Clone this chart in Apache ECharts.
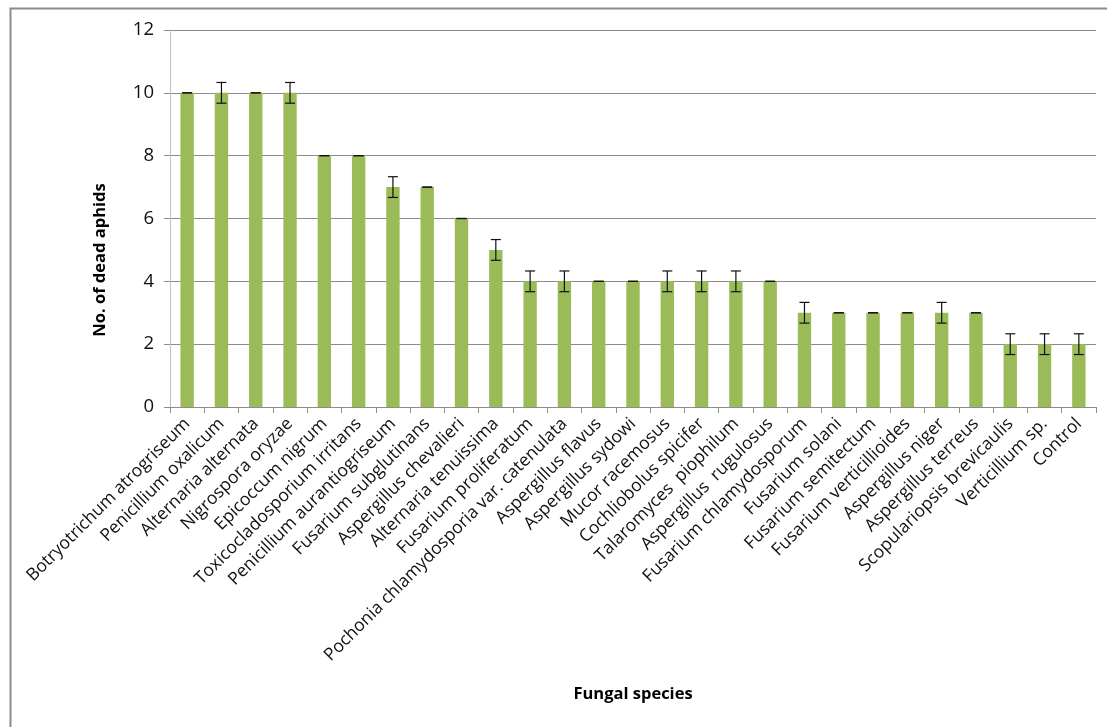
<!DOCTYPE html>
<html><head><meta charset="utf-8">
<script src="https://cdn.jsdelivr.net/npm/echarts@6/dist/echarts.min.js"></script>
<style>html,body{margin:0;padding:0;background:#fff;}#c{width:1107px;height:727px;}</style>
</head><body><div id="c"></div>
<script>
const categories = ["Botryotrichum atrogriseum","Penicillium oxalicum","Alternaria alternata","Nigrospora oryzae","Epicoccum nigrum","Toxicocladosporium irritans","Penicillium aurantiogriseum","Fusarium subglutinans","Aspergillus chevalieri","Alternaria tenuissima","Fusarium proliferatum","Pochonia chlamydosporia var. catenulata","Aspergillus flavus","Aspergillus sydowi","Mucor racemosus","Cochliobolus spicifer","Talaromyces  piophilum","Aspergillus  rugulosus","Fusarium chlamydosporum","Fusarium solani","Fusarium semitectum","Fusarium verticillioides","Aspergillus niger","Aspergillus terreus","Scopulariopsis brevicaulis","Verticillium sp.","Control"];
const deadAphids = [10,10,10,10,8,8,7,7,6,5,4,4,4,4,4,4,4,4,3,3,3,3,3,3,2,2,2];
const errors = [0,0.33,0,0.33,0,0,0.33,0,0,0.33,0.33,0.33,0,0,0.33,0.33,0.33,0,0.33,0,0,0,0.33,0,0.33,0.33,0.33];
const yTicks = [0,2,4,6,8,10,12];

const FONT = '"Open Sans", "Liberation Sans", sans-serif';
const chart = echarts.init(document.getElementById('c'), null, {renderer:'canvas'});
const errData = deadAphids.map((v,i)=>[i, v - errors[i], v + errors[i]]);
chart.setOption({
  animation:false,
  backgroundColor:'#fff',
  grid:{left:170, right:11, top:30, bottom:320, containLabel:false},
  xAxis:{
    type:'category', data:categories,
    axisLine:{lineStyle:{color:'#8c8c8c', width:1}},
    axisTick:{show:true, alignWithLabel:false, length:6, lineStyle:{color:'#8c8c8c'}},
    axisLabel:{rotate:45, interval:0, fontSize:17.5, fontFamily:FONT, color:'#111', margin:14}
  },
  yAxis:{
    type:'value', min:yTicks[0], max:yTicks[yTicks.length-1], interval:2,
    axisLine:{show:true, lineStyle:{color:'#bfbfbf'}},
    axisTick:{show:true, length:6, lineStyle:{color:'#8c8c8c'}},
    splitLine:{show:true, lineStyle:{color:'#8c8c8c', width:1}},
    axisLabel:{fontSize:18.5, fontFamily:FONT, color:'#111', margin:16}
  },
  graphic:[
    {type:'rect', shape:{x:10.5, y:8.5, width:1200, height:800}, style:{fill:'none', stroke:'#8c8c8c', lineWidth:2}, silent:true, z:-1},
    {type:'text', x:100, y:260, rotation:Math.PI/2, style:{text:'No. of dead aphids', font:'bold 16.5px '+FONT, fill:'#000', align:'center', verticalAlign:'middle'}},
    {type:'text', x:633, y:694, style:{text:'Fungal species', font:'bold 16.5px '+FONT, fill:'#000', align:'center', verticalAlign:'middle'}}
  ],
  series:[
    {type:'bar', data:deadAphids, barWidth:'39%', itemStyle:{color:'#9bbb59'}, z:2},
    {type:'custom', data:errData, z:5,
     renderItem:function(params, api){
       const x = api.value(0);
       const lo = api.coord([x, api.value(1)]);
       const hi = api.coord([x, api.value(2)]);
       const h = 5;
       const st = {stroke:'#111', lineWidth:1.2};
       return {type:'group', children:[
         {type:'line', shape:{x1:lo[0], y1:lo[1], x2:hi[0], y2:hi[1]}, style:st},
         {type:'line', shape:{x1:hi[0]-h, y1:hi[1], x2:hi[0]+h, y2:hi[1]}, style:st},
         {type:'line', shape:{x1:lo[0]-h, y1:lo[1], x2:lo[0]+h, y2:lo[1]}, style:st}
       ]};
     }}
  ]
});
</script></body></html>
